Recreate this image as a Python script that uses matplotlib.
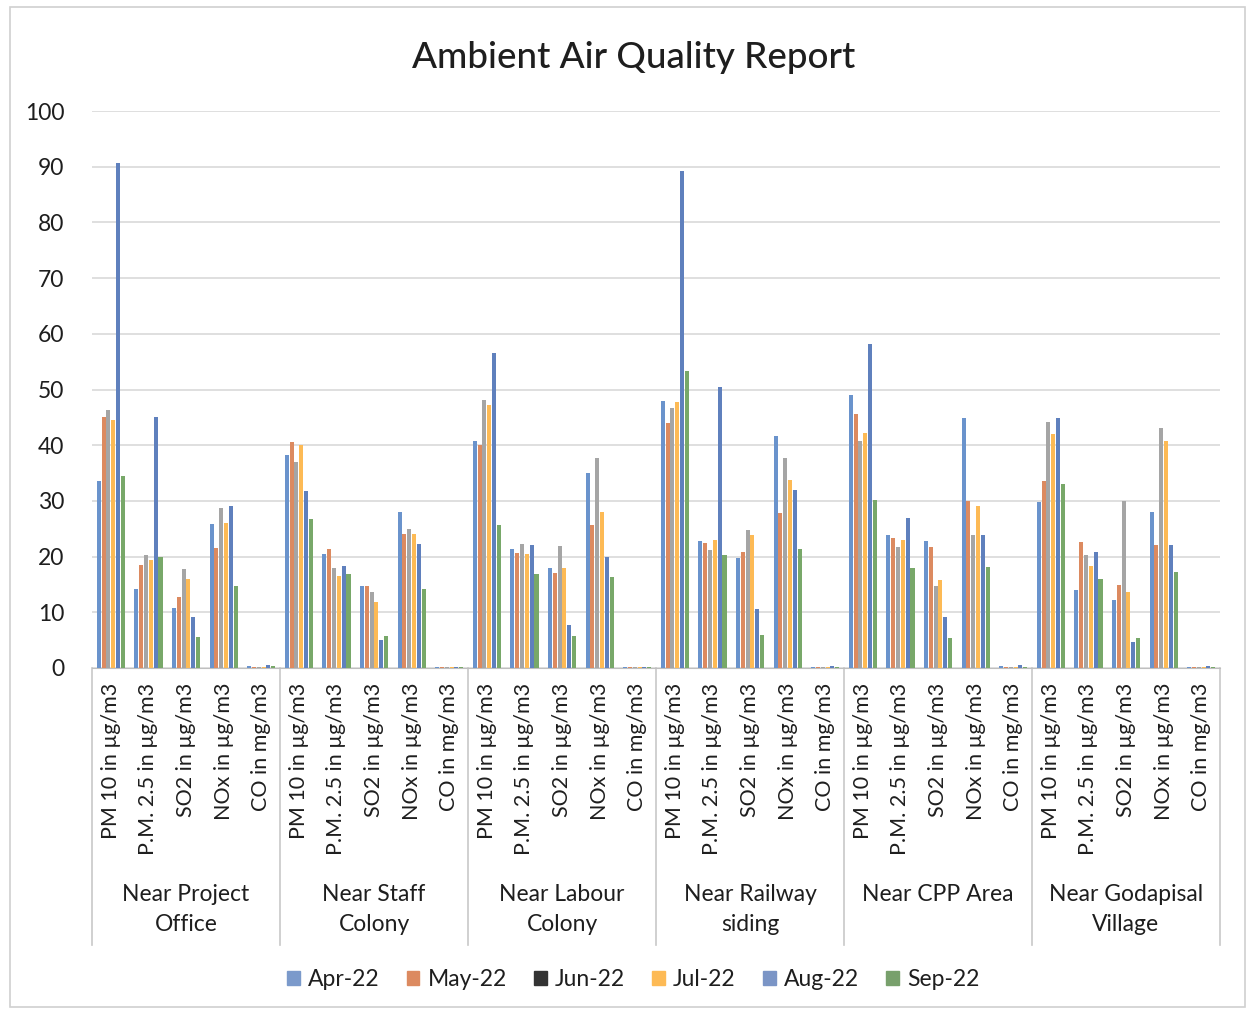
import matplotlib
matplotlib.use("Agg")
import matplotlib.pyplot as plt
import matplotlib.transforms as mtransforms
from matplotlib.patches import Patch, Rectangle
import numpy as np

plt.rcParams['font.family'] = ['Lato', 'DejaVu Sans']

locations = ["Near Project\nOffice", "Near Staff\nColony", "Near Labour\nColony",
             "Near Railway\nsiding", "Near CPP Area", "Near Godapisal\nVillage"]
parameters = ["PM 10 in µg/m3", "P.M. 2.5 in µg/m3", "SO2 in µg/m3", "NOx in µg/m3", "CO in mg/m3"]
months = ["Apr-22", "May-22", "Jun-22", "Jul-22", "Aug-22", "Sep-22"]

# values per month: 6 locations x 5 parameters (PM10, PM2.5, SO2, NOx, CO)
apr = [33.5, 14.1, 10.8, 25.8, 0.3,
       38.3, 20.5, 14.8, 28.0, 0.2,
       40.8, 21.4, 18.0, 35.0, 0.2,
       48.0, 22.8, 19.8, 41.6, 0.2,
       49.0, 23.8, 22.8, 44.8, 0.3,
       29.8, 14.0, 12.2, 28.0, 0.2]
may = [45.0, 18.5, 12.8, 21.5, 0.2,
       40.5, 21.3, 14.8, 24.1, 0.2,
       40.0, 20.7, 17.0, 25.7, 0.2,
       44.0, 22.4, 20.8, 27.8, 0.2,
       45.6, 23.4, 21.8, 30.0, 0.2,
       33.6, 22.7, 14.9, 22.0, 0.2]
jun = [46.4, 20.3, 17.7, 28.7, 0.2,
       37.0, 18.0, 13.7, 24.9, 0.2,
       48.2, 22.2, 21.9, 37.7, 0.2,
       46.6, 21.2, 24.8, 37.7, 0.2,
       40.8, 21.8, 14.8, 23.8, 0.2,
       44.2, 20.3, 29.9, 43.0, 0.2]
jul = [44.5, 19.4, 15.9, 26.0, 0.2,
       40.0, 16.6, 11.9, 24.1, 0.2,
       47.3, 20.4, 18.0, 28.0, 0.2,
       47.8, 23.0, 23.9, 33.8, 0.2,
       42.2, 23.0, 15.8, 29.0, 0.2,
       42.0, 18.4, 13.7, 40.8, 0.2]
aug = [90.6, 45.0, 9.2, 29.1, 0.6,
       31.7, 18.3, 5.1, 22.2, 0.2,
       56.6, 22.0, 7.7, 19.9, 0.2,
       89.2, 50.5, 10.6, 31.9, 0.4,
       58.2, 27.0, 9.2, 23.8, 0.5,
       44.8, 20.8, 4.6, 22.0, 0.3]
sep = [34.5, 20.0, 5.5, 14.8, 0.3,
       26.7, 16.9, 5.8, 14.2, 0.2,
       25.7, 16.8, 5.8, 16.3, 0.2,
       53.3, 20.2, 5.9, 21.3, 0.2,
       30.1, 18.0, 5.4, 18.2, 0.2,
       33.1, 16.0, 5.4, 17.2, 0.2]
series = [apr, may, jun, jul, aug, sep]

bar_colors = ["#6a93cc", "#dc8a60", "#a5a5a5", "#fdba55", "#5f80bd", "#78a869"]
legend_colors = ["#7b9acb", "#dc8a60", "#333333", "#fdba55", "#7b95c6", "#78a06c"]
txt = "#1e1e1e"

W, H = 1254, 1015
fig = plt.figure(figsize=(W / 100, H / 100), dpi=100)
fig.patches.append(Rectangle((10 / W, 8 / H), (1245 - 10) / W, (1000) / H,
                             transform=fig.transFigure, fill=False,
                             edgecolor="#d0d0d0", linewidth=1.2))

left, right, top, bottom = 92, 1220, 111, 668
ax = fig.add_axes([left / W, 1 - bottom / H, (right - left) / W, (bottom - top) / H])

ncat = len(locations) * len(parameters)
x = np.arange(ncat)
slot = 0.128
bw = 0.11
for i, (vals, c) in enumerate(zip(series, bar_colors)):
    ax.bar(x + (i - 2.5) * slot, vals, width=bw, color=c, zorder=3)

ax.set_xlim(-0.5, ncat - 0.5)
ax.set_ylim(0, 100)
ax.set_yticks(np.arange(0, 101, 10))
ax.yaxis.grid(True, color="#d9d9d9", linewidth=1.2, zorder=0)
ax.tick_params(axis='y', length=0, labelsize=16.5, colors=txt, pad=20)
for s in ["left", "right", "top"]:
    ax.spines[s].set_visible(False)
ax.spines["bottom"].set_color("#bfbfbf")
ax.set_xticks([])

blend = mtransforms.blended_transform_factory(ax.transData, fig.transFigure)
def fy(py):
    return 1 - py / H

# parameter labels
for k in range(ncat):
    ax.text(k, fy(683), parameters[k % 5], rotation=90, ha="center", va="top",
            fontsize=15.5, color=txt, transform=blend)

# separators and group labels
for g in range(len(locations) + 1):
    xb = g * 5 - 0.5
    ax.plot([xb, xb], [fy(668), fy(945)], color="#c8c8c8", linewidth=1.2,
            transform=blend, clip_on=False)
for g, loc in enumerate(locations):
    ax.text(g * 5 + 2, fy(884), loc, ha="center", va="top", fontsize=16.5,
            color=txt, transform=blend, linespacing=1.55)

fig.text(0.505, fy(58), "Ambient Air Quality Report", ha="center", va="center",
         fontsize=26.5, color=txt, fontweight="medium")

handles = [Patch(color=c, label=m) for c, m in zip(legend_colors, months)]
fig.legend(handles=handles, loc="center", bbox_to_anchor=(0.505, fy(980)), ncol=6,
           frameon=False, fontsize=16.5, handlelength=0.55, handleheight=0.55,
           handletextpad=0.35, columnspacing=1.2, labelcolor=txt)

fig.savefig("out.png", dpi=100)
